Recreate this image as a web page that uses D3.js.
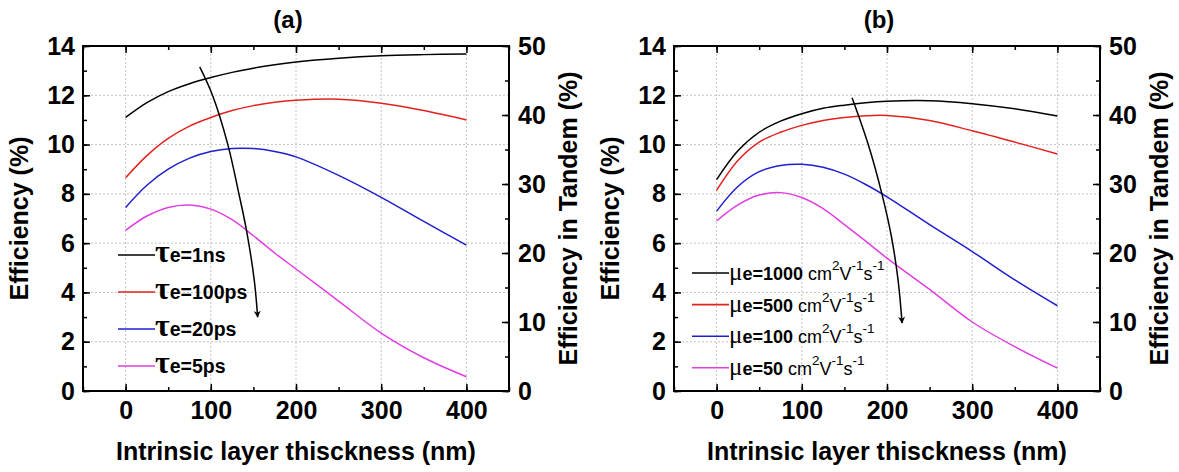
<!DOCTYPE html>
<html>
<head>
<meta charset="utf-8">
<script src="https://cdn.jsdelivr.net/npm/d3@7/dist/d3.min.js"></script>
<style>
  body { margin: 0; background: #fff; }
  svg { display: block; font-family: "Liberation Sans", Arial, sans-serif; }
</style>
</head>
<body>
<svg id="chart" width="1179" height="472"></svg>
<script>
'use strict';

// shared x values (nm)
const thickness = [0, 25, 50, 75, 100, 125, 150, 175, 200, 250, 300, 350, 400];

// (a) electron lifetime
const tau1ns   = [11.1, 11.7, 12.15, 12.47, 12.72, 12.93, 13.1, 13.24, 13.35, 13.5, 13.6, 13.65, 13.68];
const tau100ps = [8.65, 9.55, 10.25, 10.75, 11.1, 11.38, 11.58, 11.72, 11.8, 11.84, 11.68, 11.38, 11.0];
const tau20ps  = [7.45, 8.35, 9.0, 9.45, 9.72, 9.84, 9.84, 9.72, 9.5, 8.75, 7.86, 6.88, 5.92];
const tau5ps   = [6.52, 7.1, 7.45, 7.55, 7.38, 6.95, 6.3, 5.6, 4.95, 3.65, 2.35, 1.35, 0.58];
const tauLabels = ['e=1ns', 'e=100ps', 'e=20ps', 'e=5ps'];

// (b) electron mobility
const mu1000 = [8.58, 9.75, 10.5, 10.95, 11.25, 11.47, 11.6, 11.7, 11.76, 11.78, 11.66, 11.45, 11.16];
const mu500  = [8.14, 9.35, 10.1, 10.5, 10.78, 10.98, 11.1, 11.17, 11.18, 10.98, 10.56, 10.1, 9.62];
const mu100  = [7.3, 8.3, 8.9, 9.15, 9.2, 9.08, 8.8, 8.38, 7.88, 6.75, 5.66, 4.51, 3.46];
const mu50   = [6.9, 7.55, 7.95, 8.05, 7.85, 7.4, 6.75, 6.08, 5.39, 4.12, 2.8, 1.8, 0.93];
const muLabels = ['e=1000', 'e=500', 'e=100', 'e=50'];

// arrows (data coords)
const arrowAx = [87, 102, 120, 133, 142, 151, 155];
const arrowAy = [13.15, 12, 10, 8, 6.5, 4.5, 3.0];
const arrowBx = [159, 178, 194, 205, 213, 217.7];
const arrowBy = [11.9, 10, 8, 6.3, 4.5, 2.76];

const xTicks = [0, 100, 200, 300, 400];
const xMinor = [-50, 0, 50, 100, 150, 200, 250, 300, 350, 400, 450];
const yTicks = [0, 2, 4, 6, 8, 10, 12, 14];
const yMinor = d3.range(0, 15, 1);
const y2Ticks = [0, 10, 20, 30, 40, 50];
const y2Minor = d3.range(0, 55, 5);

const colors = ['#000000', '#e3221f', '#1f1fcf', '#e23de2'];

const TOP = 46;
const BOTTOM = 391;
const PW = 426;

const svg = d3.select('#chart');
svg.append('rect').attr('width', 1179).attr('height', 472).attr('fill', '#fff');

const defs = svg.append('defs');
defs.append('marker')
  .attr('id', 'head')
  .attr('viewBox', '0 0 10 10')
  .attr('refX', 9).attr('refY', 5)
  .attr('markerWidth', 10).attr('markerHeight', 7)
  .attr('markerUnits', 'userSpaceOnUse')
  .attr('orient', 'auto')
  .append('path')
  .attr('d', 'M0,0 L10,5 L0,10 L3,5 z')
  .attr('fill', '#000');

function styleTicks(g) {
  g.attr('font-size', null).attr('font-family', null);
  g.select('.domain').remove();
  g.selectAll('.tick line').attr('stroke', '#000').attr('stroke-width', 1.5);
  g.selectAll('.tick text')
    .attr('font-size', 25)
    .attr('font-weight', 'bold')
    .attr('fill', '#000');
}

function drawPanel(left, series, title, arrowX, arrowY, legendFn) {
  const right = left + PW;
  const x = d3.scaleLinear().domain([-50, 450]).range([left, right]);
  const y = d3.scaleLinear().domain([0, 14]).range([BOTTOM, TOP]);
  const y2 = d3.scaleLinear().domain([0, 50]).range([BOTTOM, TOP]);
  const g = svg.append('g');

  // dotted grid
  g.append('g').selectAll('line')
    .data(xTicks)
    .enter().append('line')
    .attr('x1', d => x(d)).attr('x2', d => x(d))
    .attr('y1', TOP).attr('y2', BOTTOM)
    .attr('stroke', '#c4c4c4').attr('stroke-dasharray', '2,2');
  g.append('g').selectAll('line')
    .data(yTicks.filter(d => d > 0 && d < 14))
    .enter().append('line')
    .attr('x1', left).attr('x2', right)
    .attr('y1', d => y(d)).attr('y2', d => y(d))
    .attr('stroke', '#c4c4c4').attr('stroke-dasharray', '2,2');

  // axes, ticks pointing in
  g.append('g').attr('transform', `translate(0,${BOTTOM})`)
    .call(d3.axisBottom(x).tickValues(xTicks).tickSize(-7).tickPadding(10).tickFormat(d3.format('d')))
    .call(styleTicks);
  g.append('g').attr('transform', `translate(0,${BOTTOM})`)
    .call(d3.axisBottom(x).tickValues(xMinor).tickSize(-4).tickFormat(''))
    .call(styleTicks);
  g.append('g').attr('transform', `translate(0,${TOP})`)
    .call(d3.axisTop(x).tickValues(xMinor).tickSize(-4).tickFormat(''))
    .call(styleTicks);
  g.append('g').attr('transform', `translate(0,${TOP})`)
    .call(d3.axisTop(x).tickValues(xTicks).tickSize(-7).tickFormat(''))
    .call(styleTicks);
  g.append('g').attr('transform', `translate(${left},0)`)
    .call(d3.axisLeft(y).tickValues(yTicks).tickSize(-7).tickPadding(8))
    .call(styleTicks);
  g.append('g').attr('transform', `translate(${left},0)`)
    .call(d3.axisLeft(y).tickValues(yMinor).tickSize(-4).tickFormat(''))
    .call(styleTicks);
  g.append('g').attr('transform', `translate(${right},0)`)
    .call(d3.axisRight(y2).tickValues(y2Ticks).tickSize(-7).tickPadding(9))
    .call(styleTicks);
  g.append('g').attr('transform', `translate(${right},0)`)
    .call(d3.axisRight(y2).tickValues(y2Minor).tickSize(-4).tickFormat(''))
    .call(styleTicks);

  // curves
  const line = d3.line()
    .x((d, i) => x(thickness[i]))
    .y(d => y(d))
    .curve(d3.curveCatmullRom.alpha(0.5));
  g.append('g').selectAll('path')
    .data(series)
    .enter().append('path')
    .attr('d', d => line(d))
    .attr('fill', 'none')
    .attr('stroke', (d, i) => colors[i])
    .attr('stroke-width', 1.5);

  // trend arrow
  const arrowLine = d3.line()
    .x((d, i) => x(arrowX[i]))
    .y(d => y(d))
    .curve(d3.curveCatmullRom.alpha(0.5));
  g.append('path')
    .attr('d', arrowLine(arrowY))
    .attr('fill', 'none')
    .attr('stroke', '#000')
    .attr('stroke-width', 1.5)
    .attr('marker-end', 'url(#head)');

  // frame
  g.append('rect')
    .attr('x', left).attr('y', TOP)
    .attr('width', PW).attr('height', BOTTOM - TOP)
    .attr('fill', 'none').attr('stroke', '#000').attr('stroke-width', 2);

  // titles
  g.append('text')
    .attr('x', (left + right) / 2 - 8).attr('y', 28)
    .attr('text-anchor', 'middle')
    .attr('font-size', 24).attr('font-weight', 'bold')
    .text(title);
  g.append('text')
    .attr('x', (left + right) / 2).attr('y', 460)
    .attr('text-anchor', 'middle')
    .attr('font-size', 25).attr('font-weight', 'bold')
    .text('Intrinsic layer thisckness (nm)');
  g.append('text')
    .attr('transform', `translate(${left - 55},${(TOP + BOTTOM) / 2}) rotate(-90)`)
    .attr('text-anchor', 'middle')
    .attr('font-size', 25).attr('font-weight', 'bold')
    .text('Efficiency (%)');
  g.append('text')
    .attr('transform', `translate(${right + 68},${(TOP + BOTTOM) / 2}) rotate(-90)`)
    .attr('text-anchor', 'middle')
    .attr('font-size', 25).attr('font-weight', 'bold')
    .text('Efficiency in Tandem (%)');

  legendFn(g, left);
}

function tauLegend(g, left) {
  tauLabels.forEach((lab, i) => {
    const ry = TOP + 209 + i * 37;
    g.append('line')
      .attr('x1', left + 35).attr('x2', left + 72)
      .attr('y1', ry).attr('y2', ry)
      .attr('stroke', colors[i]).attr('stroke-width', 1.6);
    const t = g.append('text')
      .attr('x', left + 72).attr('y', ry + 7)
      .attr('font-weight', 'bold');
    t.append('tspan').attr('font-family', '"Liberation Serif", serif').attr('font-size', 32).text('τ');
    t.append('tspan').attr('font-size', 19.5).text(lab);
  });
}

function muLegend(g, left) {
  muLabels.forEach((lab, i) => {
    const ry = TOP + 227 + i * 31.6;
    g.append('line')
      .attr('x1', left + 18).attr('x2', left + 55)
      .attr('y1', ry).attr('y2', ry)
      .attr('stroke', colors[i]).attr('stroke-width', 1.6);
    const t = g.append('text')
      .attr('x', left + 55).attr('y', ry + 7);
    t.append('tspan').attr('font-family', '"Liberation Serif", serif').attr('font-size', 25).text('μ');
    t.append('tspan').attr('font-size', 18).attr('font-weight', 'bold').text(lab);
    t.append('tspan').attr('font-size', 18).text(' cm');
    t.append('tspan').attr('font-size', 13.5).attr('dy', -10).text('2');
    t.append('tspan').attr('font-size', 18).attr('dy', 10).text('V');
    t.append('tspan').attr('font-size', 13.5).attr('dy', -10).text('-1');
    t.append('tspan').attr('font-size', 18).attr('dy', 10).text('s');
    t.append('tspan').attr('font-size', 13.5).attr('dy', -10).text('-1');
  });
}

drawPanel(83, [tau1ns, tau100ps, tau20ps, tau5ps], '(a)', arrowAx, arrowAy, tauLegend);
drawPanel(674, [mu1000, mu500, mu100, mu50], '(b)', arrowBx, arrowBy, muLegend);
</script>
</body>
</html>
